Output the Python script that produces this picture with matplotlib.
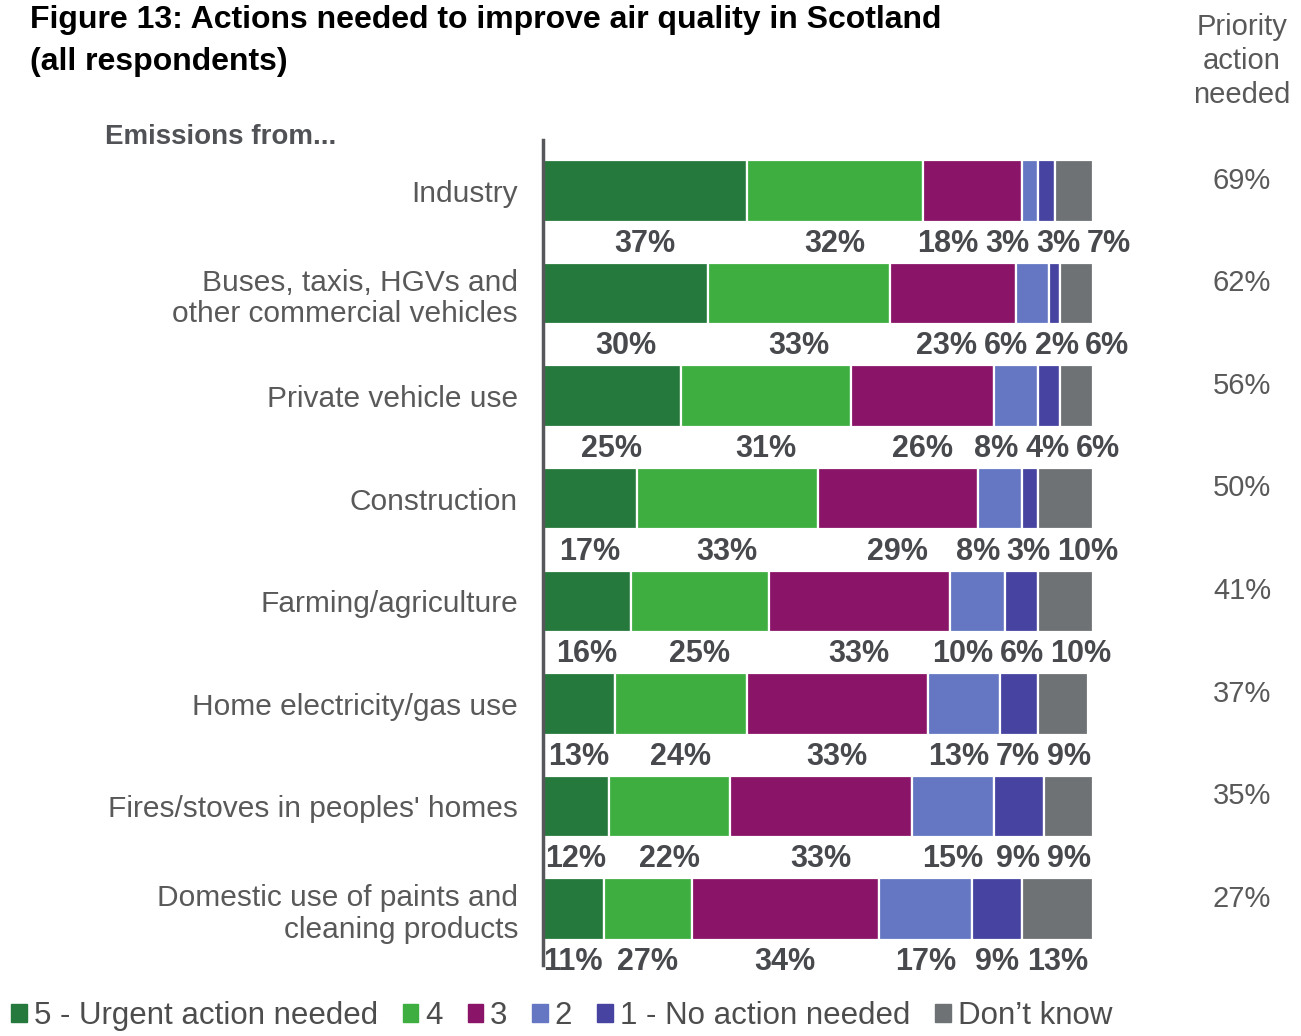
import matplotlib
matplotlib.use("Agg")
import matplotlib.pyplot as plt
from matplotlib.patches import Patch
import numpy as np

# ---- data -------------------------------------------------------------
categories = [
    "Industry",
    "Buses, taxis, HGVs and\nother commercial vehicles",
    "Private vehicle use",
    "Construction",
    "Farming/agriculture",
    "Home electricity/gas use",
    "Fires/stoves in peoples' homes",
    "Domestic use of paints and\ncleaning products",
]
levels = ["5 - Urgent action needed", "4", "3", "2",
          "1 - No action needed", "Don\u2019t know"]

urgent = [37, 30, 25, 17, 16, 13, 12, 11]
four = [32, 33, 31, 33, 25, 24, 22, 16]
three = [18, 23, 26, 29, 33, 33, 33, 34]
two = [3, 6, 8, 8, 10, 13, 15, 17]
no_action = [3, 2, 4, 3, 6, 7, 9, 9]
dont_know = [7, 6, 6, 10, 10, 9, 9, 13]

priority = [69, 62, 56, 50, 41, 37, 35, 27]

# published label text differs from the segment share for this one cell
label_overrides = {(7, 1): "27%"}

colors = ["#26793c", "#3dae3f", "#8a1467", "#6576c3", "#4644a0", "#6e7274"]

# ---- figure -----------------------------------------------------------
W, H = 1301, 1036
fig = plt.figure(figsize=(W / 100, H / 100), dpi=100)
fig.patch.set_facecolor("white")

SANS = ["Liberation Sans", "DejaVu Sans"]
GREY = "#595959"
DARK = "#47494d"

ax = fig.add_axes([543 / W, 1 - 965 / H, 550 / W, 825 / H])
ax.set_xlim(0, 100)
ax.set_ylim(7.546, -0.497)

series = np.array([urgent, four, three, two, no_action, dont_know], dtype=float)
ypos = np.arange(len(categories))
left = np.zeros(len(categories))
for k, vals in enumerate(series):
    ax.barh(ypos, vals, left=left, height=0.6, color=colors[k],
            edgecolor="white", linewidth=1.6, label=levels[k])
    left += vals

for s in ["top", "right", "bottom"]:
    ax.spines[s].set_visible(False)
ax.spines["left"].set_color("#55575b")
ax.spines["left"].set_linewidth(2.5)
ax.set_xticks([])
ax.set_yticks(ypos)
ax.set_yticklabels(categories, fontsize=21.5, color=GREY, family=SANS)
ax.tick_params(axis="y", length=0, pad=18)
for t in ax.get_yticklabels():
    t.set_linespacing(1.17)

# ---- value labels under each bar, spread apart where they would collide -
fig.canvas.draw()
renderer = fig.canvas.get_renderer()
px_per_unit = ax.transData.transform((1, 0))[0] - ax.transData.transform((0, 0))[0]
gap = 1.2

starts = np.vstack([np.zeros(series.shape[1]), np.cumsum(series, axis=0)[:-1]])
for i in range(len(categories)):
    centers = starts[:, i] + series[:, i] / 2
    texts = []
    for k in range(series.shape[0]):
        txt = label_overrides.get((i, k), f"{int(series[k, i])}%")
        texts.append(ax.text(centers[k], ypos[i] + 0.515, txt, ha="center",
                             va="center", fontsize=22, fontweight="bold",
                             color=DARK, family=SANS))
    widths = [t.get_window_extent(renderer).width / px_per_unit for t in texts]
    xs = centers.copy()
    for _ in range(300):
        for k in range(len(xs) - 1):
            need = (widths[k] + widths[k + 1]) / 2 + gap
            d = xs[k + 1] - xs[k]
            if d < need:
                shift = (need - d) / 2
                xs[k] -= shift
                xs[k + 1] += shift
    for t, x in zip(texts, xs):
        t.set_x(x)

# ---- priority column --------------------------------------------------
col_x = (1242 - 543) / 550
for i, p in enumerate(priority):
    ax.text(col_x, ypos[i] - 0.1, f"{p}%", transform=ax.get_yaxis_transform(),
            ha="center", va="center", fontsize=21, color=GREY, family=SANS)
fig.text(1242 / W, 1 - 61 / H, "Priority\naction\nneeded", ha="center",
         va="center", fontsize=21, color=GREY, family=SANS, linespacing=1.26)

# ---- titles -----------------------------------------------------------
fig.text(30 / W, 1 - 5 / H,
         "Figure 13: Actions needed to improve air quality in Scotland\n(all respondents)",
         ha="left", va="top", fontsize=23, fontweight="bold", color="black",
         family=SANS, linespacing=1.52)
fig.text(105 / W, 1 - 137 / H, "Emissions from...", ha="left", va="center",
         fontsize=20, fontweight="bold", color="#505256", family=SANS)

# ---- legend -----------------------------------------------------------
handles = [Patch(facecolor=c, edgecolor=c) for c in colors]
fig.legend(handles, levels, loc="center left", bbox_to_anchor=(11 / W, 1 - 1016 / H),
           ncol=6, frameon=False, prop={"family": SANS, "size": 22.5},
           labelcolor="#4d4d4d", handlelength=0.5, handleheight=0.5,
           handletextpad=0.22, columnspacing=0.8, borderaxespad=0, borderpad=0)

fig.savefig("out.png", dpi=100, facecolor="white")
